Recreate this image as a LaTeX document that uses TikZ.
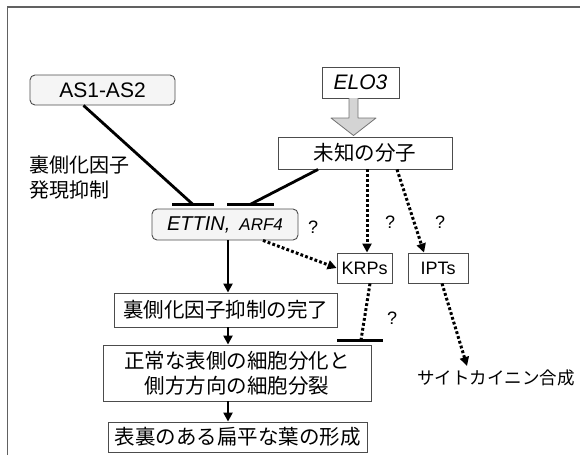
\documentclass[tikz,border=0pt]{standalone}
\usepackage{fontspec}
\setmainfont{Liberation Sans}
\newfontfamily\jp{Noto Sans CJK JP}
\usetikzlibrary{arrows.meta}
\begin{document}
\begin{tikzpicture}[x=1pt,y=-1pt,
  box/.style={draw=black!70,line width=0.9pt,fill=white,inner sep=0pt,align=center},
  rbox/.style={box,rounded corners=5pt,fill=black!4},
  jtext/.style={font=\jp\fontsize{20.5}{26}\selectfont},
  solid line/.style={line width=2.8pt},
  bar/.style={line width=3pt},
  dotline/.style={line width=3pt,dash pattern=on 2.8pt off 2.2pt},
  tip/.style={-{Triangle[length=9pt,width=9pt]}},
  q/.style={font=\fontsize{18}{20}\selectfont,inner sep=0pt}]
\useasboundingbox (0,0) rectangle (580,455);
% frame
\draw[black!62,line width=1.6pt] (7.5,455) -- (7.5,7) -- (580,7);
% nodes
\node[rbox,minimum width=145pt,minimum height=30pt,font=\fontsize{21}{24}\selectfont] (as) at (102.5,90) {AS1-AS2};
\node[box,minimum width=77pt,minimum height=31pt,font=\fontsize{21}{24}\selectfont\itshape] (elo) at (360.5,82.5) {ELO3};
\node[box,jtext,minimum width=174pt,minimum height=32pt] (unk) at (365,153) {未知の分子};
\node[rbox,minimum width=146pt,minimum height=31pt] (ett) at (225,224.5) {{\fontsize{20}{24}\selectfont\itshape ETTIN,}\hspace{9pt}{\fontsize{17}{20}\selectfont\itshape ARF4}};
\node[box,minimum width=55pt,minimum height=30pt,font=\fontsize{18}{20}\selectfont] (krp) at (364.5,268) {KRPs};
\node[box,minimum width=60pt,minimum height=30pt,font=\fontsize{18}{20}\selectfont] (ipt) at (438,268) {IPTs};
\node[box,jtext,minimum width=223pt,minimum height=34pt] (comp) at (225.5,310) {裏側化因子抑制の完了};
\node[box,jtext,minimum width=268pt,minimum height=56pt,font=\jp\fontsize{20.5}{25}\selectfont] (norm) at (237,373) {正常な表側の細胞分化と\\側方方向の細胞分裂};
\node[box,jtext,minimum width=259pt,minimum height=30pt] (leaf) at (237.5,437) {表裏のある扁平な葉の形成};
% labels
\node[jtext,anchor=west,align=left,inner sep=0pt,font=\jp\fontsize{20}{25}\selectfont] (lab) at (29,177.5) {裏側化因子\\発現抑制};
\node[q] (q1) at (313,227) {?};
\node[q] (q2) at (390,222) {?};
\node[q] (q3) at (440,222) {?};
\node[q] (q4) at (392,318) {?};
\node[jtext,inner sep=0pt,font=\jp\fontsize{17.5}{20}\selectfont] (cyto) at (496,378) {サイトカイニン合成};
% inhibition bars
\coordinate (b1) at (193,204.5);
\coordinate (b2) at (250,204.5);
\coordinate (b3) at (361,340);
\draw[bar] (172,204.5) -- (214,204.5);
\draw[bar] (227,204.5) -- (274,204.5);
\draw[bar] (337,340) -- (383,340);
\draw[solid line] ([xshift=-19pt]as.south) -- (b1);
\draw[solid line] ([xshift=-47pt]unk.south) -- (b2);
% block arrow
\draw[black!55,fill=black!17,line width=0.8pt,line join=round]
  (349,98) -- (349,118) -- (331,118) -- (353.5,135.5) -- (376,118) -- (358,118) -- (358,98);
% solid arrows
\draw[solid line,tip] ([xshift=3pt]ett.south) -- ([xshift=2.5pt]comp.north);
\draw[solid line,tip] ([xshift=2.5pt]comp.south) -- ([xshift=2.5pt]comp.south |- norm.north);
\draw[solid line,tip] ([xshift=2.5pt]comp.south |- norm.south) -- ([xshift=2.5pt]comp.south |- leaf.north);
% dotted
\draw[dotline,tip] ([xshift=38pt]ett.south) -- (krp.west);
\draw[dotline,tip] ([xshift=2pt]unk.south) -- ([xshift=2.5pt]krp.north);
\draw[dotline,tip] ([xshift=32pt]unk.south) -- ([xshift=-14pt]ipt.north);
\draw[dotline] ([xshift=5.5pt]krp.south) -- (b3);
\draw[dotline,tip] ([xshift=4pt]ipt.south) -- (467,366);
\end{tikzpicture}
\end{document}
